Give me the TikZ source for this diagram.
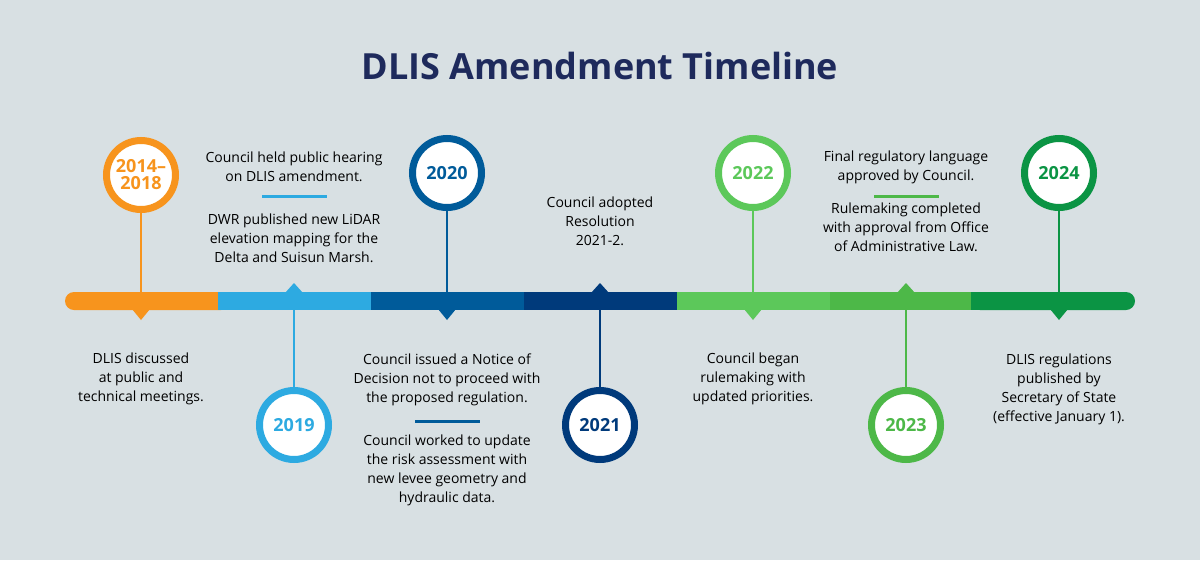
\documentclass[tikz,border=0pt]{standalone}
\usepackage{fontspec}
\setmainfont{Open Sans}
\definecolor{bg}{HTML}{D8E0E3}
\definecolor{cA}{HTML}{F7941D}
\definecolor{cB}{HTML}{2DAAE1}
\definecolor{cC}{HTML}{005B9A}
\definecolor{cD}{HTML}{003A7B}
\definecolor{cE}{HTML}{5CC85A}
\definecolor{cF}{HTML}{4DB848}
\definecolor{cG}{HTML}{0B9444}
\definecolor{ttl}{HTML}{1E2A5C}
\begin{document}
\begin{tikzpicture}[x=1pt,y=-1pt,
  txt/.style={align=center,font=\fontsize{14}{19}\selectfont,text=black,inner sep=0pt},
  yr/.style={circle,draw=#1,line width=7pt,fill=white,minimum size=69pt,inner sep=0pt,text=#1,font=\fontsize{18}{19}\selectfont\bfseries,align=center},
  stem/.style={draw=#1,line width=2.5pt}]
\fill[bg] (0,0) rectangle (1200,560);
\useasboundingbox (0,0) rectangle (1200,560);
\node[font=\fontsize{36}{40}\selectfont\bfseries,text=ttl] (title) at (600,66) {DLIS Amendment Timeline};
% bar
\fill[cA,rounded corners=9pt] (65,292) rectangle (230,310);
\fill[cB] (218,292) rectangle (371,310);
\fill[cC] (371,292) rectangle (524,310);
\fill[cD] (524,292) rectangle (677,310);
\fill[cE] (677,292) rectangle (830,310);
\fill[cF] (830,292) rectangle (983,310);
\fill[cG,rounded corners=9pt] (971,292) rectangle (1135,310);
\fill[cG] (971,292) rectangle (990,310);
% pointers
\foreach \x/\c in {141/cA,447/cC,753/cE,1059/cG} \fill[\c] (\x-9,309) -- (\x+9,309) -- (\x,320) -- cycle;
\foreach \x/\c in {294/cB,600/cD,906/cF} \fill[\c] (\x-9,293) -- (\x+9,293) -- (\x,283) -- cycle;
% circles
\node[yr=cA] (y1) at (141,175) {2014–\\[-2pt]2018};
\node[yr=cB] (y2) at (294,425) {2019};
\node[yr=cC] (y3) at (447,173) {2020};
\node[yr=cD] (y4) at (600,425) {2021};
\node[yr=cE] (y5) at (753,173) {2022};
\node[yr=cF] (y6) at (906,425) {2023};
\node[yr=cG] (y7) at (1059,173) {2024};
\foreach \i/\x/\c in {1/141/cA,3/447/cC,5/753/cE,7/1059/cG} {
  \coordinate (b\i) at (\x,293);
  \draw[stem=\c] (y\i.south) -- (b\i);}
\foreach \i/\x/\c in {2/294/cB,4/600/cD,6/906/cF} {
  \coordinate (b\i) at (\x,309);
  \draw[stem=\c] (b\i) -- (y\i.north);}
% texts
\node[txt] (t1) at (141,379) {DLIS discussed\\at public and\\technical meetings.};
\node[txt] (t2a) at (294,167) {Council held public hearing\\on DLIS amendment.};
\node[txt] (t2b) at (294,238) {DWR published new LiDAR\\elevation mapping for the\\Delta and Suisun Marsh.};
\draw[cB,line width=3pt] (262,196) -- (327,196);
\node[txt] (t3a) at (447,380) {Council issued a Notice of\\Decision not to proceed with\\the proposed regulation.};
\draw[cC,line width=3pt] (415,421) -- (480,421);
\node[txt] (t3b) at (447,470) {Council worked to update\\the risk assessment with\\new levee geometry and\\hydraulic data.};
\node[txt] (t4) at (600,221) {Council adopted\\Resolution\\2021-2.};
\node[txt] (t5) at (753,379) {Council began\\rulemaking with\\updated priorities.};
\node[txt] (t6a) at (906,167) {Final regulatory language\\approved by Council.};
\draw[cF,line width=3pt] (874,196) -- (939,196);
\node[txt] (t6b) at (906,227) {Rulemaking completed\\with approval from Office\\of Administrative Law.};
\node[txt] (t7) at (1059,389) {DLIS regulations\\published by\\Secretary of State\\(effective January 1).};
\end{tikzpicture}
\end{document}
